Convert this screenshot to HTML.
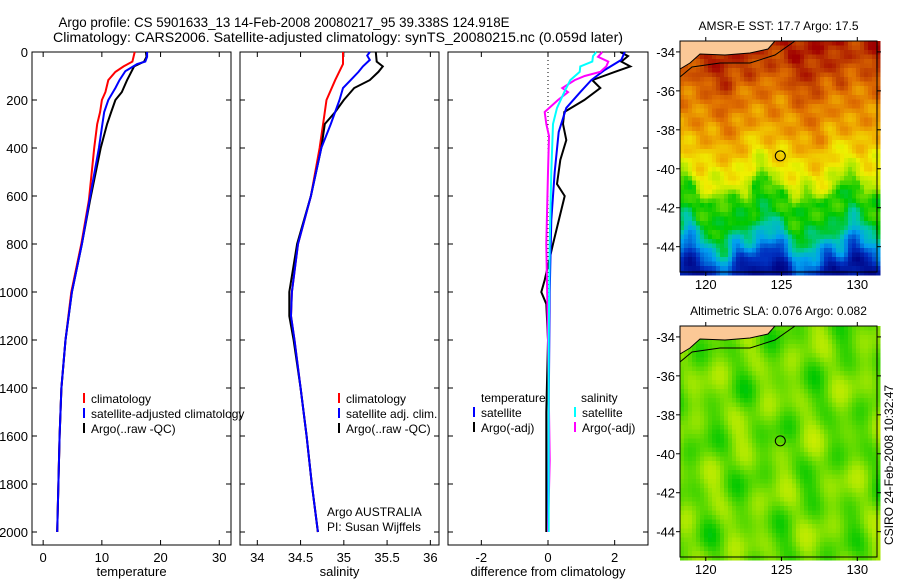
<!DOCTYPE html>
<html><head><meta charset="utf-8">
<style>
html,body{margin:0;padding:0;background:#fff;}
svg{display:block;font-family:"Liberation Sans",sans-serif;}
text{fill:#000;}
</style></head>
<body>
<svg id="fig" width="900" height="580" viewBox="0 0 900 580" xmlns="http://www.w3.org/2000/svg">
<rect width="900" height="580" fill="#fff"/>
<text x="284" y="27" font-size="14" text-anchor="middle" textLength="451" lengthAdjust="spacingAndGlyphs">Argo profile: CS 5901633_13 14-Feb-2008 20080217_95 39.338S 124.918E</text>
<text x="338" y="42" font-size="14" text-anchor="middle" textLength="570" lengthAdjust="spacingAndGlyphs">Climatology: CARS2006. Satellite-adjusted climatology: synTS_20080215.nc (0.059d later)</text>
<g id="plots"></g>
</svg>
<script>
// ---------- data ----------
const depthTickLabels=[0,200,400,600,800,1000,1200,1400,1600,1800,2000];
const tempTicks=[0,10,20,30];
const salTicks=[34,34.5,35,35.5,36];
const diffTicks=[-2,0,2];

const tClimDepth=[0,40,60,83,117,167,200,250,300,400,617,800,1000,1200,1400,1600,1800,2000];
const tClim=[15.6,15.2,13.7,12.3,11.1,10.6,10.0,9.7,9.2,8.7,7.8,6.5,4.8,3.8,3.1,2.8,2.6,2.4];
const tSatDepth=[0,20,40,50,80,117,150,200,250,300,400,617,800,1000,1200,1400,1600,1800,2000];
const tSat=[17.7,17.7,17.4,16.0,14.0,13.0,12.3,11.1,10.4,10.1,9.5,7.9,6.6,4.9,3.8,3.1,2.8,2.6,2.4];
const tArgoDepth=[0,20,40,60,117,167,200,250,300,400,617,800,1000,1200,1400,1600,1800,2000];
const tArgo=[17.5,17.6,17.2,15.5,14.3,13.4,12.3,11.6,10.9,9.8,8.0,6.6,4.9,3.8,3.1,2.8,2.6,2.4];

const sClimDepth=[0,50,117,200,300,400,600,800,1000,1100,1200,1400,1600,1800,2000];
const sClim=[34.99,34.99,34.9,34.8,34.76,34.72,34.62,34.47,34.40,34.39,34.43,34.5,34.57,34.63,34.7];
const sSatDepth=[0,15,33,60,83,117,150,200,300,400,600,800,1000,1100,1200,1400,1600,1800,2000];
const sSat=[35.3,35.27,35.3,35.22,35.17,35.08,34.99,34.95,34.85,34.74,34.62,34.47,34.40,34.39,34.43,34.5,34.57,34.63,34.7];
const sArgoDepth=[0,40,60,83,117,150,200,250,300,400,600,800,1000,1100,1200,1400,1600,1800,2000];
const sArgo=[35.37,35.38,35.45,35.4,35.3,35.12,35.0,34.9,34.78,34.74,34.62,34.46,34.37,34.37,34.42,34.5,34.57,34.63,34.7];

const dTSatDepth=[0,33,75,117,167,233,333,500,700,1000,1500,2000];
const dTSat=[2.3,2.2,1.7,1.3,0.97,0.55,0.32,0.2,0.1,0.05,0.02,0.0];
const dTArgoDepth=[0,17,40,60,83,117,150,200,250,300,367,450,550,600,800,950,1000,1050,1200,1500,2000];
const dTArgo=[2.17,2.4,2.2,2.47,2.0,1.33,1.57,1.09,0.49,0.45,0.55,0.37,0.27,0.5,0.15,-0.1,-0.2,-0.05,0.0,-0.05,-0.05];
const dSSatDepth=[0,17,40,60,83,117,167,233,300,500,800,1200,2000];
const dSSat=[1.45,1.35,1.33,0.97,0.95,0.67,0.49,0.27,0.15,0.1,0.05,0.02,0.02];
const dSArgoDepth=[0,20,40,60,83,100,117,150,167,200,250,300,350,500,800,1200,1700,2000];
const dSArgo=[1.63,1.5,1.81,1.75,1.57,1.1,0.8,0.43,0.6,0.3,-0.1,-0.05,0.03,0.0,-0.05,0.0,0.05,0.0];

const latTicks=[-34,-36,-38,-40,-42,-44];
const lonTicks=[120,125,130];
const argoLon=124.918, argoLat=-39.338;
// SST meridional profile (latitude -> colour index)
const sstLat=[-33.4,-35,-36,-38,-39.5,-40.6,-41.2,-42.5,-43.3,-44,-44.6,-45.3];
const sstVal=[0.97,0.92,0.86,0.8,0.72,0.66,0.53,0.5,0.42,0.3,0.18,0.06];

// ---------- helpers ----------
const NS='http://www.w3.org/2000/svg';
const root=document.getElementById('plots');
function mk(tag,attrs,parent){const e=document.createElementNS(NS,tag);for(const k in attrs)e.setAttribute(k,attrs[k]);(parent||root).appendChild(e);return e;}
const y0=52, ky=0.24;
function yD(d){return y0+ky*d;}
const boxBottom=545;

function panel(name,left,right,xmin,xmax,ticks,xlabel,showY){
  const g=mk('g',{});
  
  
  const xs=v=>left+(v-xmin)/(xmax-xmin)*(right-left);
  const r=mk('rect',{x:left,y:y0,width:right-left,height:boxBottom-y0,fill:'none',stroke:'#000','stroke-width':1},g);
  
  
  for(const d of depthTickLabels){
    const y=yD(d);
    mk('line',{x1:left,x2:left+5,y1:y,y2:y,stroke:'#000'},g);
    mk('line',{x1:right-5,x2:right,y1:y,y2:y,stroke:'#000'},g);
    if(showY){const t=mk('text',{x:left-4,y:y+5,'font-size':13,'text-anchor':'end'},g);t.textContent=d;
      
      }
  }
  for(const v of ticks){
    const x=xs(v);
    mk('line',{x1:x,x2:x,y1:boxBottom,y2:boxBottom-5,stroke:'#000'},g);
    mk('line',{x1:x,x2:x,y1:y0,y2:y0+5,stroke:'#000'},g);
    const t=mk('text',{x:x,y:562,'font-size':13,'text-anchor':'middle'},g);t.textContent=v;
    
    
  }
  const t=mk('text',{x:(left+right)/2,y:576,'font-size':13,'text-anchor':'middle'},g);t.textContent=xlabel;
  
  
  return {g,xs};
}
function series(p,name,depths,vals,color,w){
  let d='';
  for(let i=0;i<vals.length;i++){d+=(i?'L':'M')+p.xs(vals[i]).toFixed(1)+','+yD(depths[i]).toFixed(1);}
  const e=mk('path',{d:d,fill:'none',stroke:color,'stroke-width':w||2},p.g);
  
  
}
function legend(g,x,y,color,label,name){
  const lg=mk('g',{},g);
  
  
  mk('line',{x1:x,x2:x,y1:y-10,y2:y,stroke:color,'stroke-width':2},lg);
  const t=mk('text',{x:x+7,y:y,'font-size':12},lg);t.textContent=label;
}

// ---------- temperature panel ----------
const p1=panel('temperature-panel',32,231,-1.9,32,tempTicks,'temperature',true);
series(p1,'temp-climatology-line',tClimDepth,tClim,'#ff0000');
series(p1,'temp-argo-line',tArgoDepth,tArgo,'#000000');
series(p1,'temp-satellite-line',tSatDepth,tSat,'#0000ff');
legend(p1.g,84,403,'#ff0000','climatology','legend-climatology');
legend(p1.g,84,418,'#0000ff','satellite-adjusted climatology','legend-satellite');
legend(p1.g,84,433,'#000000','Argo(..raw -QC)','legend-argo');

// ---------- salinity panel ----------
const p2=panel('salinity-panel',240,439,33.8,36.1,salTicks,'salinity',false);
series(p2,'sal-climatology-line',sClimDepth,sClim,'#ff0000');
series(p2,'sal-argo-line',sArgoDepth,sArgo,'#000000');
series(p2,'sal-satellite-line',sSatDepth,sSat,'#0000ff');
legend(p2.g,339,403,'#ff0000','climatology','legend-climatology');
legend(p2.g,339,418,'#0000ff','satellite adj. clim.','legend-satellite');
legend(p2.g,339,433,'#000000','Argo(..raw -QC)','legend-argo');
{const t=mk('text',{x:327,y:516,'font-size':12},p2.g);t.textContent='Argo AUSTRALIA';


const t2=mk('text',{x:327,y:531,'font-size':12},p2.g);t2.textContent='PI: Susan Wijffels';

}

// ---------- difference panel ----------
const p3=panel('difference-panel',448,648,-3,3,diffTicks,'difference from climatology',false);
mk('line',{x1:p3.xs(0),x2:p3.xs(0),y1:y0,y2:yD(1050),stroke:'#000','stroke-dasharray':'1,3'},p3.g);
series(p3,'diff-temp-argo-line',dTArgoDepth,dTArgo,'#000000');
series(p3,'diff-temp-satellite-line',dTSatDepth,dTSat,'#0000ff');
series(p3,'diff-sal-argo-line',dSArgoDepth,dSArgo,'#ff00ff');
series(p3,'diff-sal-satellite-line',dSSatDepth,dSSat,'#00ffff');
{const t=mk('text',{x:481,y:402,'font-size':12},p3.g);t.textContent='temperature';


const t2=mk('text',{x:581,y:402,'font-size':12},p3.g);t2.textContent='salinity';

}
legend(p3.g,474,417,'#0000ff','satellite','legend-temp-satellite');
legend(p3.g,474,432,'#000000','Argo(-adj)','legend-temp-argo');
legend(p3.g,575,417,'#00ffff','satellite','legend-sal-satellite');
legend(p3.g,575,432,'#ff00ff','Argo(-adj)','legend-sal-argo');

// ---------- maps ----------
const cmapStops=[0,0.15,0.3,0.4,0.5,0.62,0.7,0.78,0.86,0.93,1];
const cmapCols=[[0,0,128],[0,48,192],[0,160,240],[0,200,170],[0,200,0],[170,232,0],[240,240,0],[240,176,0],[224,112,0],[192,64,0],[160,0,0]];
function cmap(v){v=Math.max(0,Math.min(1,v));
  let i=0;while(i<cmapStops.length-2&&v>cmapStops[i+1])i++;
  const f=(v-cmapStops[i])/(cmapStops[i+1]-cmapStops[i]);
  const a=cmapCols[i],b=cmapCols[i+1];
  return 'rgb('+a.map((c,k)=>Math.round(c+(b[k]-c)*f)).join(',')+')';}
function interp(xa,ya,x){
  if(x>=xa[0])return ya[0];
  for(let i=0;i<xa.length-1;i++){if(x<=xa[i]&&x>=xa[i+1]){const f=(x-xa[i])/(xa[i+1]-xa[i]);return ya[i]+(ya[i+1]-ya[i])*f;}}
  return ya[ya.length-1];}
function map(name,top,title,field){
  const L=680,R=877,B=top+231;
  const lonMin=118.3,lonMax=131.3,latTop=-33.44,latBot=-45.3;
  const xs=lon=>L+(lon-lonMin)/(lonMax-lonMin)*(R-L);
  const ys=lat=>top+(latTop-lat)/(latTop-latBot)*(B-top);
  const g=mk('g',{});
  
  
  const cw=4,ch=4.5;
  for(let y=top;y<B;y+=ch){for(let x=L;x<R;x+=cw){
    const lon=lonMin+(x-L)/(R-L)*(lonMax-lonMin), lat=latTop-(y-top)/(B-top)*(latTop-latBot);
    mk('rect',{x:x,y:y,width:cw+0.5,height:ch+0.5,fill:cmap(field(lon,lat)),'shape-rendering':'crispEdges'},g);}}
  const land=mk('path',{d:`M${L},${top} L${L+95},${top} L${L+88},${top+8} L${L+70},${top+12} L${L+45},${top+14} L${L+20},${top+13} L${L+10},${top+22} L${L},${top+28} Z`,fill:'#fbc896',stroke:'#000','stroke-width':1},g);
  
  
  const cl=mk('path',{d:`M${L},${top+36} L${L+12},${top+26} L${L+40},${top+22} L${L+70},${top+22} L${L+95},${top+14} L${L+115},${top}`,fill:'none',stroke:'#000','stroke-width':1},g);
  
  
  mk('rect',{x:L,y:top,width:R-L,height:B-top,fill:'none',stroke:'#000'},g);
  for(const la of latTicks){const y=ys(la);
    mk('line',{x1:L-4,x2:L,y1:y,y2:y,stroke:'#000'},g);
    mk('line',{x1:R,x2:R+4,y1:y,y2:y,stroke:'#000'},g);
    const t=mk('text',{x:L-5,y:y+5,'font-size':13,'text-anchor':'end'},g);t.textContent=la;
    
    }
  for(const lo of lonTicks){const x=xs(lo);
    mk('line',{x1:x,x2:x,y1:B,y2:B+4,stroke:'#000'},g);
    mk('line',{x1:x,x2:x,y1:top-4,y2:top,stroke:'#000'},g);
    const t=mk('text',{x:x,y:B+17,'font-size':13,'text-anchor':'middle'},g);t.textContent=lo;
    
    }
  const c=mk('circle',{cx:xs(argoLon),cy:ys(argoLat),r:5,fill:'none',stroke:'#000'},g);
  
  
  const t=mk('text',{x:(L+R)/2,y:top-11,'font-size':12,'text-anchor':'middle'},g);t.textContent=title;
  
  
}
map('sst-map',41,'AMSR-E SST: 17.7 Argo: 17.5',(lon,lat)=>{
  const shift=0.6*Math.sin(lon*1.1+0.5)+0.35*Math.sin(lon*2.3+lat*0.7)+0.2*Math.sin(lon*4.1+1.3);
  const tex=0.025*Math.sin(lon*3.3+lat*2.9)+0.02*Math.sin(lat*5.1-lon*1.7);
  return interp(sstLat,sstVal,lat+shift)+tex;});
map('sla-map',326,'Altimetric SLA: 0.076 Argo: 0.082',(lon,lat)=>{
  return 0.575+0.04*Math.sin(lon*1.37+0.4)*Math.cos(lat*1.23+0.8)+0.028*Math.sin(lon*2.6+lat*0.9+2)+0.015*Math.cos(lat*2.7-lon*0.5);});
{const t=mk('text',{x:0,y:0,'font-size':12,'text-anchor':'middle',transform:'translate(893,465) rotate(-90)'});
t.textContent='CSIRO 24-Feb-2008 10:32:47';

}
</script>
</body></html>
